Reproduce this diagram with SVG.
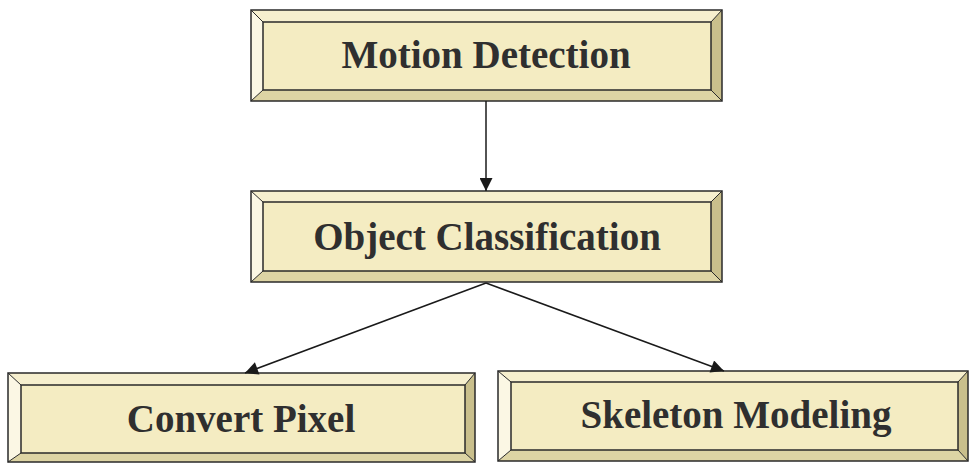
<svg xmlns="http://www.w3.org/2000/svg" width="969" height="464" viewBox="0 0 969 464">
<style>
.face{fill:#f4ecc2;stroke:#2a2a2a;stroke-width:1.5}
.bt{fill:#f6efce}
.bl{fill:#fbf7e4}
.br{fill:#c9bf8c}
.bb{fill:#ddd4a4}
.edge{stroke:#2a2a2a;stroke-width:1}
.lbl{font-family:"Liberation Serif","Times New Roman",serif;font-weight:bold;font-size:39px;fill:#2f2f2f;text-anchor:middle}
.conn{stroke:#1a1a1a;stroke-width:1.5;fill:none;marker-end:url(#ah)}
</style>
<defs>
<marker id="ah" viewBox="0 0 10 10" refX="10" refY="5" markerWidth="15" markerHeight="13" markerUnits="userSpaceOnUse" orient="auto">
<path d="M0,0 L10,5 L0,10 z" fill="#1a1a1a"/>
</marker>
</defs>
<rect width="969" height="464" fill="#ffffff"/>
<g id="motion-detection">
<polygon class="bt" points="251,10 722,10 711,22 263,22"/>
<polygon class="bl" points="251,10 263,22 263,90 251,101"/>
<polygon class="br" points="722,10 722,101 711,90 711,22"/>
<polygon class="bb" points="251,101 722,101 711,90 263,90"/>
<rect class="face" x="263" y="22" width="448" height="68"/>
<path class="edge" d="M251,10 L263,22 M722,10 L711,22 M251,101 L263,90 M722,101 L711,90"/>
<rect x="251" y="10" width="471" height="91" fill="none" stroke="#2a2a2a" stroke-width="1.5"/>
<text class="lbl" x="486" y="68">Motion Detection</text>
</g>
<g id="object-classification">
<polygon class="bt" points="251,191 722,191 711,202 263,202"/>
<polygon class="bl" points="251,191 263,202 263,271 251,282"/>
<polygon class="br" points="722,191 722,282 711,271 711,202"/>
<polygon class="bb" points="251,282 722,282 711,271 263,271"/>
<rect class="face" x="263" y="202" width="448" height="69"/>
<path class="edge" d="M251,191 L263,202 M722,191 L711,202 M251,282 L263,271 M722,282 L711,271"/>
<rect x="251" y="191" width="471" height="91" fill="none" stroke="#2a2a2a" stroke-width="1.5"/>
<text class="lbl" x="487" y="250">Object Classification</text>
</g>
<g id="convert-pixel">
<polygon class="bt" points="8,373 475,373 465,385 21,385"/>
<polygon class="bl" points="8,373 21,385 21,453 8,462"/>
<polygon class="br" points="475,373 475,462 465,453 465,385"/>
<polygon class="bb" points="8,462 475,462 465,453 21,453"/>
<rect class="face" x="21" y="385" width="444" height="68"/>
<path class="edge" d="M8,373 L21,385 M475,373 L465,385 M8,462 L21,453 M475,462 L465,453"/>
<rect x="8" y="373" width="467" height="89" fill="none" stroke="#2a2a2a" stroke-width="1.5"/>
<text class="lbl" x="241" y="432">Convert Pixel</text>
</g>
<g id="skeleton-modeling">
<polygon class="bt" points="498,371 968,371 958,382 511,382"/>
<polygon class="bl" points="498,371 511,382 511,450 498,461"/>
<polygon class="br" points="968,371 968,461 958,450 958,382"/>
<polygon class="bb" points="498,461 968,461 958,450 511,450"/>
<rect class="face" x="511" y="382" width="447" height="68"/>
<path class="edge" d="M498,371 L511,382 M968,371 L958,382 M498,461 L511,450 M968,461 L958,450"/>
<rect x="498" y="371" width="470" height="90" fill="none" stroke="#2a2a2a" stroke-width="1.5"/>
<text class="lbl" x="736" y="428">Skeleton Modeling</text>
</g>
<g id="connectors">
<line class="conn" x1="486" y1="101" x2="486" y2="191"/>
<line class="conn" x1="486" y1="283" x2="245" y2="373"/>
<line class="conn" x1="486" y1="283" x2="724" y2="371"/>
</g>
</svg>
